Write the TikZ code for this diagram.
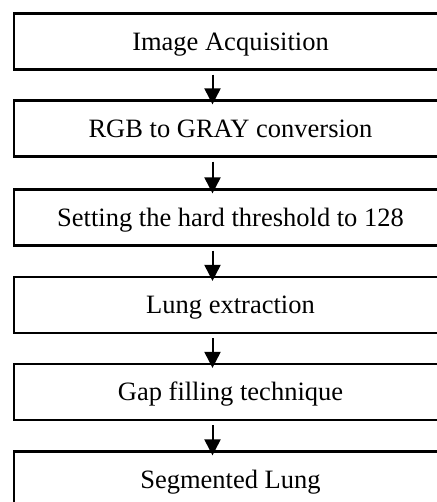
\documentclass[tikz,border=0pt]{standalone}
\usepackage{fontspec}
\setmainfont{Liberation Serif}
\usetikzlibrary{arrows.meta}
\begin{document}
\begin{tikzpicture}[x=1pt,y=-1pt,
  stepbox/.style={draw=black, line width=2.2pt, minimum width=433pt, minimum height=56pt,
    inner sep=0pt, text height=17.5pt, text depth=0pt,
    font=\fontsize{26.5}{30}\selectfont},
  arr/.style={line width=2pt, -{Triangle[width=16pt,length=16pt]}, shorten >=-5pt}]
\useasboundingbox (0,0) rectangle (436,502);
\node[stepbox] (b1) at (230.5,41.5) {Image Acquisition};
\node[stepbox] (b2) at (230.5,128.5) {RGB to GRAY conversion};
\node[stepbox] (b3) at (230.5,217.5) {Setting the hard threshold to 128};
\node[stepbox] (b4) at (230.5,305) {Lung extraction};
\node[stepbox] (b5) at (230.5,392) {Gap filling technique};
\node[stepbox] (b6) at (230.5,479.5) {Segmented Lung};
\foreach \a/\b in {b1/b2,b2/b3,b3/b4,b4/b5,b5/b6}{
  \draw[arr] ([xshift=-18pt,yshift=-4pt]\a.south) -- ([xshift=-18pt]\b.north);
}
\end{tikzpicture}
\end{document}
